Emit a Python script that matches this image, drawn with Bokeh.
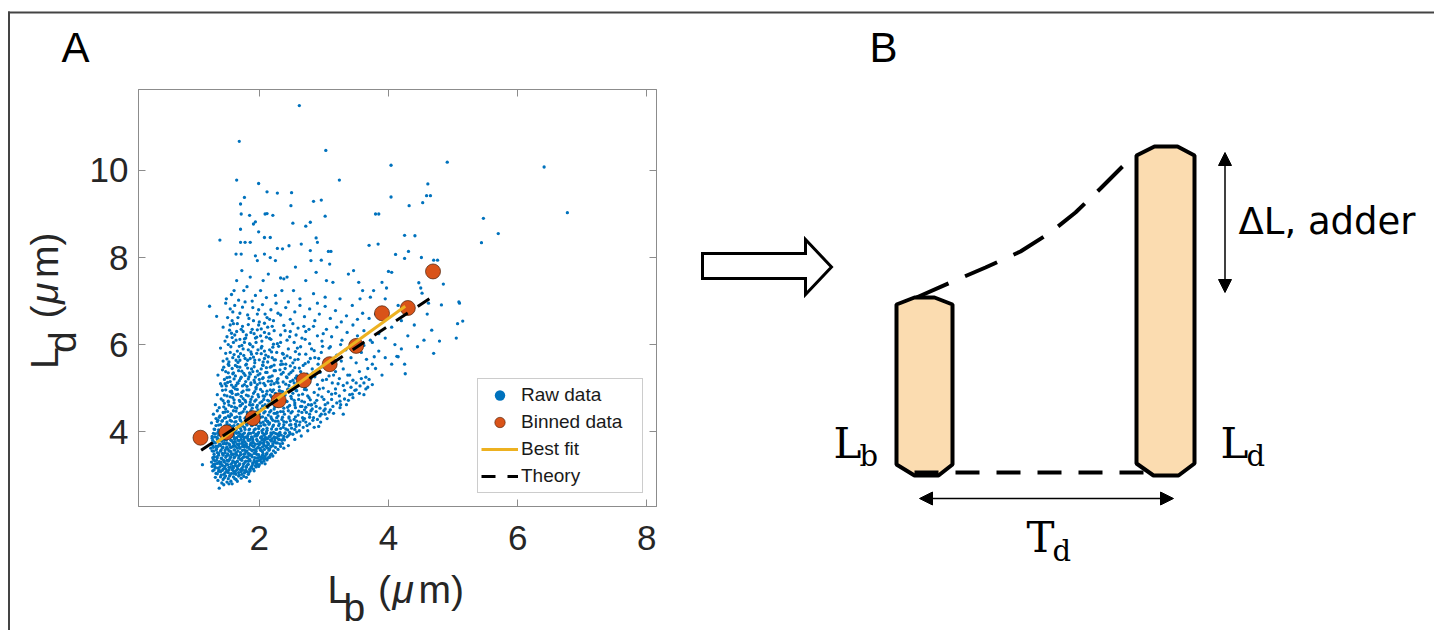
import math
from bokeh.plotting import figure
from bokeh.models import (Range1d, LinearAxis, FixedTicker, Legend, LegendItem,
                          Arrow, NormalHead)
from bokeh.core.properties import value
from bokeh.embed import file_html
from bokeh.resources import INLINE

# ---------------- Panel A data ----------------
x_ticks = [2, 4, 6, 8]
y_ticks = [4, 6, 8, 10]
x_lim = (0.13, 8.15)
y_lim = (2.28, 11.86)

raw_points = [
    # sparse outliers
    (2.62,11.49),(1.69,10.67),(3.03,10.46),(4.04,10.12),(4.91,10.19),(6.41,10.08),(1.65,9.78),(1.99,9.70),
    (3.24,9.78),(2.12,9.51),(2.28,9.48),(2.50,9.49),(1.77,9.38),(4.04,9.39),(4.61,9.69),(4.59,9.42),
    (4.65,9.42),(4.53,9.26),(4.32,9.19),(1.71,9.23),(1.72,9.00),(1.85,8.97),(2.09,9.00),(2.12,9.01),
    (2.21,8.97),(2.49,9.19),(2.84,9.29),(2.96,9.32),(3.02,8.95),(2.52,8.79),(2.72,8.72),(2.79,8.81),
    (3.80,9.00),(3.85,9.00),(1.39,8.40),(1.71,8.65),(1.94,8.82),(1.91,8.77),(1.99,8.59),(2.08,8.46),
    (2.17,8.46),(2.88,8.45),(2.90,8.35),(3.07,8.14),(3.11,8.14),(3.70,8.28),(3.84,8.31),(4.25,8.51),
    (4.41,8.50),(4.11,8.07),(4.25,7.98),(4.31,8.14),(4.51,8.00),(4.70,7.94),(4.76,7.94),(4.85,7.39),
    (5.10,6.95),(5.07,6.48),(5.15,6.54),(5.05,6.15),(4.79,6.08),(4.67,6.33),(4.82,6.91),(4.50,7.30),
    (4.47,7.42),(4.52,7.18),(4.00,7.68),(4.05,7.66),(3.90,7.43),(3.97,7.30),(4.26,5.33),(4.13,5.73),
    (4.15,5.72),(1.23,6.88),(1.34,6.65),(1.12,3.24),(1.38,2.70),(1.45,2.78),(1.53,2.80),(1.85,2.86),
    (5.47,8.90),(5.44,8.34),(5.70,8.55),(6.77,9.03),(5.09,6.98),
    # upper sparse band 7 - 8.4
    (1.71,8.35),(1.78,8.35),(1.86,8.35),(1.64,8.08),(1.72,8.08),(1.94,8.04),(1.97,7.93),(2.08,8.08),
    (2.17,8.00),(2.25,7.93),(2.28,8.21),(2.36,8.20),(2.46,8.27),(2.56,7.78),(2.65,8.31),(2.79,8.16),
    (2.80,7.93),(2.96,7.94),(3.09,7.85),(2.88,7.66),(2.72,7.47),(2.43,7.55),(2.38,7.51),(2.33,7.53),
    (2.14,7.62),(2.06,7.47),(1.86,7.55),(1.73,7.70),(1.65,7.47),(1.61,7.24),(1.76,7.24),(1.94,7.13),
    (2.02,7.24),(2.25,7.13),(2.35,7.24),(2.53,7.24),(2.63,7.05),(2.84,7.17),(3.02,7.09),(3.25,7.05),
    (3.38,7.62),(3.46,7.70),(3.54,7.43),(3.60,7.24),(3.72,7.09),(3.77,7.24),(3.56,7.05),(3.14,7.43),
    (3.04,7.47),
    # band 6.5 - 7
    (1.48,6.95),(1.55,6.82),(1.62,6.90),(1.70,6.72),(1.78,6.98),(1.84,6.60),(1.90,6.85),(1.97,6.70),
    (2.05,6.92),(2.12,6.62),(2.18,6.80),(2.26,6.95),(2.33,6.68),(2.41,6.85),(2.48,6.58),(2.55,6.75),
    (2.63,6.90),(2.70,6.64),(2.78,6.82),(2.86,6.55),(2.93,6.70),(3.02,6.88),(3.10,6.60),(3.18,6.78),
    (3.27,6.52),(3.35,6.66),(3.44,6.90),(3.52,6.58),(3.60,6.72),(1.58,6.55),(1.67,6.62),(2.00,6.52),
    (2.22,6.55),(2.90,6.95),(3.70,6.60),(3.80,6.70),
    # band 6 - 6.5
    (1.44,6.40),(1.50,6.18),(1.55,6.45),(1.60,6.05),(1.65,6.30),(1.70,6.12),(1.74,6.42),(1.80,6.22),
    (1.85,6.02),(1.89,6.35),(1.94,6.15),(1.99,6.45),(2.04,6.08),(2.08,6.28),(2.13,6.40),(2.18,6.12),
    (2.23,6.32),(2.28,6.02),(2.33,6.22),(2.38,6.44),(2.43,6.10),(2.48,6.30),(2.54,6.05),(2.60,6.38),
    (2.66,6.15),(2.72,6.30),(2.78,6.02),(2.84,6.42),(2.90,6.20),(2.97,6.08),(3.04,6.35),(3.12,6.18),
    (3.20,6.40),(3.28,6.10),(3.36,6.28),(3.45,6.45),(3.52,6.20),(3.62,6.32),(3.72,6.10),(3.85,6.25),
    (1.62,6.22),(1.77,6.05),(1.92,6.25),(2.02,6.20),(2.15,6.25),(2.40,6.32),(2.57,6.22),(2.69,6.42),
    # band 5.5 - 6
    (1.40,5.92),(1.44,5.62),(1.48,5.80),(1.52,5.55),(1.56,5.95),(1.59,5.70),(1.63,5.52),(1.66,5.85),
    (1.70,5.64),(1.73,5.98),(1.76,5.75),(1.80,5.55),(1.83,5.88),(1.86,5.68),(1.90,5.95),(1.93,5.58),
    (1.96,5.80),(2.00,5.65),(2.03,5.92),(2.06,5.52),(2.10,5.76),(2.13,5.60),(2.16,5.88),(2.20,5.70),
    (2.23,5.53),(2.27,5.82),(2.30,5.96),(2.34,5.62),(2.37,5.78),(2.41,5.55),(2.45,5.90),(2.48,5.70),
    (2.52,5.58),(2.56,5.84),(2.60,5.66),(2.64,5.95),(2.68,5.52),(2.72,5.78),(2.76,5.60),(2.81,5.90),
    (2.86,5.70),(2.91,5.55),(2.96,5.82),(3.02,5.64),(3.08,5.92),(3.14,5.58),(3.20,5.76),(3.27,5.62),
    (3.34,5.88),(3.42,5.70),(3.50,5.58),(3.58,5.82),(3.66,5.66),(3.75,5.55),(3.62,5.98),(1.68,5.72),
    (1.88,5.78),(2.08,5.85),(2.25,5.65),(2.43,5.74),(2.62,5.78),(2.79,5.68),(2.98,5.96),
    # band 5 - 5.5
    (1.36,5.30),(1.40,5.10),(1.43,5.42),(1.46,5.20),(1.49,5.05),(1.52,5.35),(1.55,5.15),(1.58,5.45),
    (1.60,5.02),(1.63,5.28),(1.66,5.12),(1.68,5.40),(1.71,5.22),(1.74,5.05),(1.76,5.34),(1.79,5.15),
    (1.82,5.46),(1.84,5.26),(1.87,5.08),(1.90,5.38),(1.92,5.18),(1.95,5.02),(1.98,5.30),(2.01,5.12),
    (2.03,5.44),(2.06,5.24),(2.09,5.06),(2.12,5.36),(2.14,5.16),(2.17,5.48),(2.20,5.28),(2.23,5.10),
    (2.25,5.40),(2.28,5.20),(2.31,5.03),(2.34,5.32),(2.37,5.14),(2.40,5.45),(2.43,5.24),(2.46,5.06),
    (2.49,5.36),(2.52,5.18),(2.55,5.47),(2.58,5.28),(2.61,5.08),(2.64,5.38),(2.67,5.20),(2.71,5.02),
    (2.74,5.32),(2.78,5.14),(2.82,5.44),(2.86,5.26),(2.90,5.08),(2.94,5.36),(2.98,5.18),(3.03,5.46),
    (3.08,5.28),(3.13,5.12),(3.18,5.38),(3.24,5.22),(3.30,5.44),(3.37,5.30),(3.45,5.18),(3.55,5.38),
    (3.65,5.25),(1.54,5.25),(1.70,5.48),(1.86,5.32),(2.00,5.20),(2.15,5.25),(2.32,5.42),(2.48,5.15),
    (2.62,5.46),(2.80,5.22),(2.96,5.48),
    # band 4.5 - 5
    (1.32,4.62),(1.35,4.85),(1.38,4.55),(1.41,4.75),(1.43,4.95),(1.46,4.65),(1.48,4.52),(1.50,4.82),
    (1.52,4.70),(1.55,4.92),(1.57,4.58),(1.59,4.78),(1.61,4.66),(1.63,4.98),(1.65,4.54),(1.67,4.86),
    (1.69,4.72),(1.71,4.60),(1.73,4.90),(1.75,4.76),(1.77,4.52),(1.79,4.68),(1.81,4.96),(1.83,4.82),
    (1.85,4.62),(1.87,4.74),(1.89,4.54),(1.91,4.88),(1.93,4.70),(1.95,4.98),(1.97,4.60),(1.99,4.80),
    (2.01,4.66),(2.03,4.52),(2.05,4.92),(2.07,4.74),(2.09,4.62),(2.11,4.86),(2.13,4.56),(2.15,4.70),
    (2.17,4.96),(2.19,4.80),(2.21,4.64),(2.23,4.52),(2.25,4.88),(2.27,4.72),(2.29,4.58),(2.31,4.94),
    (2.33,4.78),(2.35,4.66),(2.38,4.54),(2.40,4.84),(2.42,4.70),(2.45,4.98),(2.47,4.60),(2.50,4.76),
    (2.52,4.88),(2.55,4.66),(2.58,4.94),(2.61,4.74),(2.64,4.58),(2.67,4.86),(2.70,4.68),(2.73,4.96),
    (2.77,4.78),(2.81,4.62),(2.85,4.90),(2.89,4.72),(2.93,4.98),(2.97,4.80),(3.02,4.62),(3.07,4.92),
    (3.12,4.74),(3.18,4.88),(3.25,4.70),(3.32,4.95),(3.40,4.85),(1.58,4.88),(1.74,4.64),(1.90,4.62),
    (2.06,4.82),(2.20,4.92),(2.36,4.92),(2.56,4.55),(2.72,4.56),(2.88,4.58),
    # band 4 - 4.5
    (1.26,4.20),(1.29,4.40),(1.31,4.05),(1.33,4.30),(1.35,4.48),(1.37,4.15),(1.39,4.36),(1.41,4.02),
    (1.42,4.24),(1.44,4.44),(1.46,4.10),(1.48,4.32),(1.50,4.18),(1.51,4.46),(1.53,4.04),(1.55,4.26),
    (1.57,4.38),(1.58,4.12),(1.60,4.48),(1.62,4.22),(1.64,4.06),(1.65,4.34),(1.67,4.16),(1.69,4.42),
    (1.70,4.28),(1.72,4.02),(1.74,4.20),(1.75,4.46),(1.77,4.10),(1.79,4.32),(1.80,4.18),(1.82,4.40),
    (1.84,4.04),(1.85,4.26),(1.87,4.48),(1.89,4.14),(1.90,4.36),(1.92,4.22),(1.94,4.06),(1.95,4.44),
    (1.97,4.30),(1.99,4.12),(2.00,4.40),(2.02,4.20),(2.04,4.02),(2.05,4.34),(2.07,4.16),(2.09,4.46),
    (2.10,4.26),(2.12,4.08),(2.14,4.38),(2.16,4.20),(2.18,4.48),(2.19,4.30),(2.21,4.12),(2.23,4.42),
    (2.25,4.24),(2.27,4.06),(2.29,4.36),(2.31,4.18),(2.33,4.46),(2.35,4.28),(2.37,4.10),(2.39,4.40),
    (2.42,4.22),(2.44,4.04),(2.46,4.34),(2.49,4.16),(2.51,4.46),(2.54,4.28),(2.57,4.12),(2.60,4.38),
    (2.63,4.22),(2.66,4.44),(2.70,4.30),(2.74,4.14),(2.78,4.40),(2.83,4.26),(2.88,4.46),(2.94,4.36),
    (3.00,4.48),(1.36,4.26),(1.52,4.36),(1.68,4.10),(1.83,4.30),(1.98,4.50),(2.13,4.22),(2.28,4.44),
    (2.45,4.48),(2.62,4.02),(2.80,4.48),
    # core 3.5 - 4
    (1.25,3.62),(1.27,3.85),(1.29,3.55),(1.30,3.75),(1.32,3.95),(1.33,3.66),(1.35,3.52),(1.36,3.84),
    (1.38,3.70),(1.39,3.98),(1.41,3.58),(1.42,3.78),(1.44,3.64),(1.45,3.90),(1.47,3.52),(1.48,3.72),
    (1.50,3.84),(1.51,3.60),(1.53,3.96),(1.54,3.70),(1.56,3.54),(1.57,3.80),(1.59,3.66),(1.60,3.92),
    (1.62,3.58),(1.63,3.76),(1.65,3.86),(1.66,3.62),(1.68,3.98),(1.69,3.72),(1.71,3.52),(1.72,3.82),
    (1.74,3.66),(1.75,3.94),(1.77,3.58),(1.78,3.76),(1.80,3.88),(1.81,3.64),(1.83,3.50),(1.84,3.80),
    (1.86,3.70),(1.87,3.96),(1.89,3.56),(1.90,3.78),(1.92,3.66),(1.93,3.90),(1.95,3.60),(1.96,3.82),
    (1.98,3.72),(1.99,3.98),(2.01,3.62),(2.02,3.86),(2.04,3.74),(2.05,3.54),(2.07,3.92),(2.08,3.80),
    (2.10,3.66),(2.11,3.96),(2.13,3.84),(2.14,3.70),(2.16,3.60),(2.17,3.90),(2.19,3.78),(2.21,3.68),
    (2.22,3.98),(2.24,3.86),(2.26,3.74),(2.28,3.94),(2.30,3.82),(2.32,3.72),(2.34,3.92),(2.37,3.84),
    (2.40,3.96),(2.43,3.88),(2.47,3.98),(2.52,3.94),(2.58,3.99),
    (1.28,3.68),(1.31,3.88),(1.34,3.60),(1.37,3.92),(1.40,3.68),(1.43,3.50),(1.46,3.80),(1.49,3.62),
    (1.52,3.88),(1.55,3.64),(1.58,3.94),(1.61,3.70),(1.64,3.52),(1.67,3.80),(1.70,3.62),(1.73,3.92),
    (1.76,3.70),(1.79,3.54),(1.82,3.84),(1.85,3.60),(1.88,3.88),(1.91,3.74),(1.94,3.52),(1.97,3.92),
    (2.00,3.70),(2.03,3.58),(2.06,3.82),(2.09,3.94),(2.12,3.76),(2.15,3.88),(2.18,3.66),(2.20,3.84),
    (2.23,3.76),(2.27,3.86),(2.31,3.96),(2.35,3.80),(1.44,3.72),(1.50,3.74),(1.56,3.88),(1.62,3.84),
    (1.68,3.68),(1.74,3.76),(1.80,3.68),(1.86,3.82),(1.92,3.58),(1.98,3.64),(2.04,3.88),(2.10,3.86),
    (1.47,3.96),(1.53,3.56),(1.59,3.76),(1.65,3.96),(1.71,3.88),(1.77,3.86),(1.83,3.94),(1.89,3.68),
    (1.95,3.94),(2.01,3.76),(2.07,3.70),(2.13,3.62),(2.19,3.94),
    # core 3 - 3.5
    (1.26,3.30),(1.28,3.10),(1.30,3.42),(1.31,3.20),(1.33,3.04),(1.34,3.34),(1.36,3.16),(1.37,3.46),
    (1.39,3.26),(1.40,3.08),(1.42,3.38),(1.43,3.22),(1.45,3.02),(1.46,3.30),(1.48,3.14),(1.49,3.44),
    (1.51,3.24),(1.52,3.06),(1.54,3.36),(1.55,3.18),(1.57,3.48),(1.58,3.28),(1.60,3.10),(1.61,3.40),
    (1.63,3.22),(1.64,3.02),(1.66,3.32),(1.67,3.14),(1.69,3.44),(1.70,3.26),(1.72,3.08),(1.73,3.38),
    (1.75,3.20),(1.76,3.48),(1.78,3.30),(1.79,3.12),(1.81,3.42),(1.82,3.24),(1.84,3.06),(1.85,3.36),
    (1.87,3.18),(1.88,3.46),(1.90,3.28),(1.91,3.14),(1.93,3.40),(1.94,3.22),(1.96,3.48),(1.97,3.32),
    (1.99,3.20),(2.01,3.42),(2.03,3.30),(2.05,3.46),(2.07,3.36),(2.09,3.26),(2.11,3.48),(2.14,3.40),
    (2.17,3.46),(2.21,3.44),
    (1.27,3.20),(1.29,3.36),(1.32,3.26),(1.35,3.40),(1.38,3.12),(1.41,3.30),(1.44,3.46),(1.47,3.20),
    (1.50,3.34),(1.53,3.12),(1.56,3.42),(1.59,3.20),(1.62,3.30),(1.65,3.46),(1.68,3.22),(1.71,3.36),
    (1.74,3.12),(1.77,3.42),(1.80,3.20),(1.83,3.32),(1.86,3.46),(1.89,3.22),(1.92,3.34),(1.95,3.28),
    (1.98,3.40),(2.02,3.36),(2.06,3.40),(2.10,3.38),(1.44,3.14),(1.52,3.46),(1.60,3.48),(1.68,3.06),
    (1.76,3.26),(1.84,3.46),(1.49,3.08),(1.57,3.04),(1.65,3.12),(1.73,3.02),(1.81,3.08),(1.86,3.10),
    # below 3
    (1.32,2.95),(1.36,2.88),(1.40,2.96),(1.44,2.90),(1.48,2.98),(1.52,2.92),(1.56,2.86),(1.60,2.96),
    (1.64,2.90),(1.68,2.98),(1.72,2.93),(1.76,2.97),(1.80,2.95),(1.42,2.82),(1.50,2.84),(1.58,2.80),
    (1.66,2.86),(1.46,2.94),(1.54,2.98),(1.62,2.92),
    # lower-right edge of the cloud
    (2.45,3.68),(2.55,3.82),(2.65,3.90),(2.75,4.02),(2.85,4.10),(2.95,4.22),(3.05,4.30),(3.15,4.42),
    (3.25,4.55),(3.35,4.62),(3.45,4.78),(3.55,4.88),(3.65,4.98),(3.75,5.08),(3.62,4.85),(3.48,4.95),
    (3.30,4.40),(3.10,4.50),(2.92,4.12),(2.38,3.62),(3.02,4.40),
    # right tail
    (3.70,5.20),(3.80,5.45),(3.90,5.30),(3.95,5.70),(4.05,5.55),(3.85,5.85),(4.10,6.00),(4.20,5.90),
    (3.75,6.05),(3.95,6.15),(4.30,6.20),(4.40,6.45),(4.55,6.10),(4.20,6.55),(4.05,6.40),(3.90,6.60),
    (4.35,6.80),(4.60,6.70),(4.15,6.90),(3.95,7.05),(4.45,5.95),(4.70,5.80),(4.62,6.95),(3.68,5.45),
    (3.78,5.72),(4.25,5.55),
    # dense core, second pass
    (1.35,3.03),(1.41,3.00),(1.47,3.05),(1.55,3.01),(1.61,3.04),(1.69,3.00),(1.77,3.05),(1.83,3.02),
    (1.30,3.12),(1.37,3.09),(1.43,3.11),(1.51,3.10),(1.58,3.13),(1.63,3.08),(1.71,3.12),(1.78,3.09),
    (1.85,3.13),(1.92,3.10),(1.32,3.17),(1.39,3.19),(1.46,3.16),(1.53,3.18),(1.60,3.17),(1.66,3.19),
    (1.73,3.16),(1.80,3.18),(1.88,3.16),(1.95,3.19),(2.00,3.24),(1.29,3.25),(1.35,3.27),(1.42,3.24),
    (1.49,3.26),(1.56,3.25),(1.63,3.27),(1.69,3.24),(1.76,3.26),(1.83,3.25),(1.90,3.27),(1.97,3.25),
    (2.04,3.28),(1.31,3.33),(1.38,3.31),(1.45,3.34),(1.52,3.32),(1.59,3.33),(1.66,3.31),(1.73,3.34),
    (1.79,3.32),(1.86,3.33),(1.93,3.31),(2.00,3.34),(2.07,3.32),(2.12,3.35),(1.28,3.40),(1.34,3.42),
    (1.41,3.39),(1.48,3.41),(1.55,3.40),(1.62,3.42),(1.68,3.39),(1.75,3.41),(1.82,3.40),(1.89,3.42),
    (1.96,3.39),(2.03,3.41),(2.09,3.43),(2.16,3.41),(1.30,3.48),(1.37,3.50),(1.44,3.47),(1.51,3.49),
    (1.58,3.48),(1.64,3.50),(1.71,3.47),(1.78,3.49),(1.85,3.48),(1.92,3.50),(1.99,3.47),(2.06,3.49),
    (2.12,3.51),(2.19,3.49),(2.25,3.52),(1.27,3.56),(1.33,3.58),(1.40,3.55),(1.47,3.57),(1.54,3.56),
    (1.61,3.58),(1.67,3.55),(1.74,3.57),(1.81,3.56),(1.88,3.58),(1.95,3.55),(2.02,3.57),(2.08,3.59),
    (2.15,3.57),(2.22,3.56),(2.29,3.59),(1.29,3.64),(1.36,3.66),(1.43,3.63),(1.50,3.65),(1.57,3.64),
    (1.63,3.66),(1.70,3.63),(1.77,3.65),(1.84,3.64),(1.91,3.66),(1.98,3.63),(2.05,3.65),(2.11,3.67),
    (2.18,3.65),(2.25,3.64),(2.33,3.66),(1.26,3.72),(1.32,3.74),(1.39,3.71),(1.46,3.73),(1.53,3.72),
    (1.60,3.74),(1.66,3.71),(1.73,3.73),(1.80,3.72),(1.87,3.74),(1.94,3.71),(2.01,3.73),(2.07,3.75),
    (2.14,3.73),(2.21,3.72),(2.28,3.74),(2.36,3.73),(1.28,3.80),(1.35,3.82),(1.42,3.79),(1.49,3.81),
    (1.56,3.80),(1.62,3.82),(1.69,3.79),(1.76,3.81),(1.83,3.80),(1.90,3.82),(1.97,3.79),(2.04,3.81),
    (2.10,3.83),(2.17,3.81),(2.24,3.80),(2.31,3.82),(2.39,3.81),(1.27,3.89),(1.34,3.87),(1.41,3.90),
    (1.48,3.88),(1.55,3.89),(1.61,3.87),(1.68,3.90),(1.75,3.88),(1.82,3.89),(1.89,3.87),(1.96,3.90),
    (2.03,3.88),(2.09,3.86),(2.16,3.89),(2.23,3.88),(2.30,3.90),(2.38,3.89),(2.45,3.91),(1.29,3.96),
    (1.36,3.98),(1.43,3.95),(1.50,3.97),(1.57,3.96),(1.63,3.98),(1.70,3.95),(1.77,3.97),(1.84,3.96),
    (1.91,3.98),(1.98,3.95),(2.05,3.97),(2.11,3.99),(2.18,3.97),(2.25,3.96),(2.32,3.98),(2.40,3.97),
    (2.48,3.95),(1.30,4.06),(1.37,4.04),(1.44,4.07),(1.51,4.05),(1.58,4.06),(1.64,4.04),(1.71,4.07),
    (1.78,4.05),(1.85,4.06),(1.92,4.04),(1.99,4.07),(2.06,4.05),(2.12,4.03),(2.19,4.06),(2.26,4.05),
    (2.33,4.07),(2.41,4.06),(2.50,4.08),(1.33,4.14),(1.40,4.16),(1.47,4.13),(1.54,4.15),(1.61,4.14),
    (1.67,4.16),(1.74,4.13),(1.81,4.15),(1.88,4.14),(1.95,4.16),(2.02,4.13),(2.09,4.15),(2.15,4.17),
    (2.22,4.15),(2.30,4.14),(2.38,4.16),(2.47,4.15),(2.56,4.17),(1.35,4.23),(1.43,4.25),(1.50,4.22),
    (1.57,4.24),(1.64,4.23),(1.71,4.25),(1.78,4.22),(1.85,4.24),(1.92,4.23),(1.99,4.25),(2.06,4.22),
    (2.13,4.24),(2.21,4.26),(2.29,4.24),(2.38,4.23),(2.48,4.25),(2.58,4.24),(2.68,4.26),(1.38,4.33),
    (1.46,4.31),(1.54,4.34),(1.62,4.32),(1.70,4.33),(1.78,4.31),(1.86,4.34),(1.94,4.32),(2.02,4.33),
    (2.10,4.31),(2.18,4.34),(2.27,4.32),(2.36,4.33),(2.46,4.31),(2.56,4.34),(2.67,4.32),(2.78,4.33),
    # medium-density wedge, second pass
    (1.47,4.45),(1.56,4.41),(1.64,4.47),(1.72,4.43),(1.81,4.45),(1.89,4.41),(1.98,4.46),(2.07,4.43),
    (2.16,4.45),(2.26,4.42),(2.37,4.46),(2.49,4.43),(2.61,4.47),(2.73,4.44),(1.45,4.57),(1.53,4.61),
    (1.62,4.56),(1.70,4.59),(1.79,4.57),(1.87,4.61),(1.96,4.56),(2.05,4.59),(2.14,4.62),(2.24,4.57),
    (2.34,4.60),(2.44,4.56),(2.55,4.61),(2.66,4.58),(2.80,4.61),(1.44,4.71),(1.52,4.68),(1.61,4.73),
    (1.70,4.69),(1.78,4.72),(1.86,4.68),(1.95,4.73),(2.04,4.69),(2.13,4.72),(2.23,4.68),(2.32,4.73),
    (2.43,4.69),(2.54,4.72),(2.66,4.70),(2.79,4.73),(1.46,4.84),(1.55,4.80),(1.64,4.85),(1.72,4.81),
    (1.80,4.84),(1.89,4.80),(1.98,4.85),(2.08,4.81),(2.17,4.84),(2.27,4.80),(2.38,4.85),(2.49,4.81),
    (2.61,4.84),(2.75,4.82),(1.48,4.96),(1.57,4.93),(1.66,4.97),(1.75,4.93),(1.84,4.96),(1.93,4.92),
    (2.02,4.97),(2.12,4.93),(2.22,4.96),(2.33,4.93),(2.44,4.97),(2.57,4.94),(2.70,4.97),(1.47,5.10),
    (1.57,5.07),(1.67,5.11),(1.77,5.08),(1.87,5.12),(1.97,5.08),(2.07,5.11),(2.18,5.08),(2.29,5.12),
    (2.41,5.09),(2.54,5.12),(2.68,5.09),(1.50,5.24),(1.61,5.21),(1.72,5.25),(1.83,5.21),(1.94,5.25),
    (2.05,5.22),(2.17,5.26),(2.29,5.22),(2.42,5.26),(2.56,5.23),(1.48,5.38),(1.60,5.35),(1.73,5.39),
    (1.85,5.35),(1.97,5.39),(2.10,5.36),(2.23,5.40),(2.37,5.36),(2.52,5.40),(1.53,5.52),(1.66,5.49),
    (1.79,5.53),(1.92,5.49),(2.05,5.53),(2.19,5.50),(2.33,5.54),(2.48,5.51),(1.50,5.67),(1.64,5.64),
    (1.78,5.68),(1.93,5.64),(2.08,5.68),(2.23,5.65),(2.39,5.69),(1.55,5.82),(1.71,5.79),(1.87,5.83),
    (2.03,5.79),(2.19,5.83),(2.36,5.80),(1.52,6.00),(1.69,5.96),(1.86,6.00),(2.04,5.96),(2.22,6.01),
    (1.58,6.16),(1.77,6.13),(1.96,6.17),(2.16,6.14),(1.54,6.33),(1.75,6.30),(1.97,6.34),(1.60,6.48),
    (1.83,6.46),(2.08,6.49),
    # diagonal band, second pass
    (2.55,4.05),(2.62,4.15),(2.68,4.10),(2.72,4.22),(2.78,4.18),(2.84,4.32),(2.90,4.28),(2.96,4.40),
    (3.02,4.52),(3.08,4.45),(3.14,4.58),(3.20,4.66),(3.26,4.62),(3.32,4.75),(3.38,4.72),(3.44,4.86),
    (3.50,4.96),(3.56,5.05),(3.62,5.12),(3.68,5.02),(2.86,4.66),(2.94,4.54),(3.00,4.74),(3.06,4.66),
    (3.12,4.86),(3.18,4.98),(3.24,4.82),(3.30,5.06),(3.36,5.12),(3.42,5.02),(2.70,4.50),(2.76,4.62),
    (2.82,4.52),(2.91,4.84),(2.99,5.00),(3.15,5.30),(3.22,5.10),(3.40,5.30),(3.50,5.12),(3.58,5.22),
    # upper wedge, third pass
    (1.42,5.05),(1.51,5.13),(1.59,5.33),(1.64,5.06),(1.69,5.17),(1.78,5.29),(1.81,5.04),(1.88,5.44),
    (1.93,5.13),(2.01,5.33),(2.11,5.47),(2.19,5.16),(1.45,5.48),(1.53,5.60),(1.61,5.77),(1.67,5.59),
    (1.75,5.90),(1.82,5.64),(1.91,5.71),(1.98,5.88),(2.06,5.60),(2.14,5.72),(2.21,5.94),(1.47,6.08),
    (1.57,6.26),(1.64,6.10),(1.72,6.35),(1.79,6.15),(1.87,6.28),(1.95,6.05),(2.03,6.36),(2.11,6.17),
    (2.20,6.42),(1.51,6.62),(1.59,6.75),(1.66,6.48),(1.74,6.86),(1.82,6.68),(1.91,6.55),(1.99,6.80),
    (2.09,6.70),(2.16,6.58),(1.49,7.05),(1.57,7.15),(1.68,7.02),(1.81,7.33),(1.89,7.00),(2.11,7.08),
    (2.29,6.72),(2.45,6.98),(2.27,5.14),(2.36,5.55),(2.46,5.32),(2.55,5.65),(2.64,5.16),(2.71,5.56),
    (2.83,5.35),(2.92,5.68),(3.04,5.20),(3.16,5.52),(2.33,6.05),(2.47,6.18),(2.59,5.92),(2.71,6.12),
    (2.85,5.86),(2.99,6.25),(3.10,5.95),(3.26,6.00),(2.52,6.48),(2.77,6.35),
]
raw_lb = [p[0] for p in raw_points]
raw_ld = [p[1] for p in raw_points]

bin_lb = [1.09, 1.49, 1.90, 2.30, 2.69, 3.09, 3.50, 3.90, 4.30, 4.69]
bin_ld = [3.86, 3.98, 4.31, 4.72, 5.18, 5.55, 5.97, 6.72, 6.84, 7.68]

fit_lb = [1.34, 4.26]
fit_ld = [3.75, 6.88]
theory_lb = [1.10, 4.65]
theory_ld = [3.57, 7.07]

legend_labels = ["Raw data", "Binned data", "Best fit", "Theory"]

# ---------------- Panel B diagram shapes (page px units) ----------------
hollow_arrow_x = [702, 805, 805, 831, 805, 805, 702]
hollow_arrow_y = [253, 253, 239, 266.5, 294, 278, 278]
cell_birth_x = [896, 914, 934, 952, 952, 938, 914, 896]
cell_birth_y = [304, 297, 297, 304, 464, 475, 475, 464]
cell_div_x = [1136, 1154, 1177, 1194, 1194, 1178, 1153, 1136]
cell_div_y = [155, 146, 146, 155, 463, 475, 475, 463]
growth_x = [916, 950, 985, 1020, 1050, 1075, 1100, 1131]
growth_y = [297, 282, 267, 251, 232, 212, 188, 157]
base_x = [914, 1158]
base_y = [472, 472]

# ---------------- styles ----------------
BLUE = "#0072BD"
ORANGE = "#D95319"
GOLD = "#EDB120"
AXC = "#8c8c8c"
TXT = "#262626"
CELL = "#FBDCB0"
SANS = "Liberation Sans"
W, H = 1434, 630
NAN = float("nan")

# ---------------- Panel A figure ----------------
pa = figure(width=700, height=620, x_range=Range1d(*x_lim), y_range=Range1d(*y_lim),
            toolbar_location=None, output_backend="svg",
            min_border_left=138, min_border_right=44, min_border_top=89, min_border_bottom=114,
            outline_line_color=AXC, outline_line_width=1, background_fill_color="white",
            border_fill_color="white")
pa.grid.visible = False

r_raw = pa.scatter(raw_lb, raw_ld, size=3.3, fill_color=BLUE, line_color=None)
r_bin = pa.scatter(bin_lb, bin_ld, size=15, fill_color=ORANGE, line_color="#4a1f08", line_width=0.7)
r_fit = pa.line(fit_lb, fit_ld, line_width=3, line_color=GOLD)
r_th = pa.line(theory_lb, theory_ld, line_width=3, line_color="black", line_dash="14 12")
l_raw = pa.scatter(x=[NAN], y=[NAN], size=5.5, fill_color=BLUE, line_color=None)
l_bin = pa.scatter(x=[NAN], y=[NAN], size=7.5, fill_color=ORANGE, line_color="#4a1f08", line_width=0.6)

for ax in (pa.xaxis[0], pa.yaxis[0]):
    ax.axis_line_color = AXC
    ax.major_tick_line_color = AXC
    ax.major_tick_in = 7
    ax.major_tick_out = 0
    ax.minor_tick_line_color = None
    ax.major_label_text_font = SANS
    ax.major_label_text_font_size = "35px"
    ax.major_label_text_color = TXT
pa.xaxis.ticker = FixedTicker(ticks=x_ticks)
pa.yaxis.ticker = FixedTicker(ticks=y_ticks)
pa.xaxis.major_label_standoff = 19
pa.yaxis.major_label_standoff = 10

top_ax = LinearAxis(ticker=FixedTicker(ticks=x_ticks), major_label_text_font_size="0px",
                    major_label_overrides={t: "" for t in x_ticks},
                    axis_line_color=AXC, major_tick_line_color=AXC, major_tick_in=7,
                    major_tick_out=0, minor_tick_line_color=None, major_label_standoff=0)
right_ax = LinearAxis(ticker=FixedTicker(ticks=y_ticks), major_label_text_font_size="0px",
                      major_label_overrides={t: "" for t in y_ticks},
                      axis_line_color=AXC, major_tick_line_color=AXC, major_tick_in=7,
                      major_tick_out=0, minor_tick_line_color=None, major_label_standoff=0)
pa.add_layout(top_ax, "above")
pa.add_layout(right_ax, "right")

legend = Legend(items=[LegendItem(label=legend_labels[0], renderers=[l_raw]),
                       LegendItem(label=legend_labels[1], renderers=[l_bin]),
                       LegendItem(label=legend_labels[2], renderers=[r_fit]),
                       LegendItem(label=legend_labels[3], renderers=[r_th])],
                location="bottom_right", margin=13, padding=3, spacing=1,
                glyph_width=37, glyph_height=26, label_height=26, label_width=118,
                label_standoff=3, label_text_font=SANS, label_text_font_size="19px",
                label_text_color="#1a1a1a", border_line_color="#9a9a9a", border_line_width=1,
                background_fill_color="white", background_fill_alpha=1)
pa.add_layout(legend)

# ---------------- overlay figure (labels + panel B), page-pixel coordinates ----------------
ov = figure(width=W, height=H, x_range=Range1d(0, W), y_range=Range1d(H, 0),
            x_axis_type=None, y_axis_type=None, toolbar_location=None, output_backend="svg",
            min_border=0, outline_line_color=None, outline_line_alpha=0,
            background_fill_color=None, border_fill_color=None,
            background_fill_alpha=0, border_fill_alpha=0,
            styles={"position": "absolute", "left": "0px", "top": "0px", "overflow": "hidden"})

MID = 0.355  # text is anchored at the middle of its em box; shift so (x, y) is the baseline


def label(x, y, s, size, font=SANS, style="normal", angle=0.0, color=TXT):
    if angle == 0.0:
        y = y - MID * size
    else:
        x = x - MID * size
    ov.text(x=[x], y=[y], text=[s], angle=angle, text_font=value(font),
            text_font_size=value(f"{size}px"), text_font_style=value(style),
            text_color=color, text_align="left", text_baseline="alphabetic")


# outer frame edges (top and left) as thin filled bars
ov.quad(left=[7.5, 7.5], right=[W, 9.5], top=[11, 11], bottom=[13, H],
        fill_color="#444444", line_color=None)

# panel letters
label(61, 62, "A", 42, color="black")
label(869, 62, "B", 42, color="black")

# axis titles of panel A
label(327, 603, "L", 39)
label(343, 621, "b", 39)
label(377.6, 603, "(", 39)
label(392, 603, "\u03bc", 39, style="italic")
label(418, 603, "m)", 39)
ang = math.pi / 2
label(58, 368.5, "L", 39, angle=ang)
label(76, 352.5, "d", 39, angle=ang)
label(58, 318, "(", 39, angle=ang)
label(58, 303.5, "\u03bc", 39, style="italic", angle=ang)
label(58, 277.5, "m)", 39, angle=ang)

# panel B
ov.patch(hollow_arrow_x, hollow_arrow_y, fill_color="white", line_color="black", line_width=3,
         line_join="miter")
ov.line(growth_x, growth_y, line_color="black", line_width=4, line_dash="35 18")
ov.patch(cell_birth_x, cell_birth_y, fill_color=CELL, line_color="black", line_width=4)
ov.patch(cell_div_x, cell_div_y, fill_color=CELL, line_color="black", line_width=4)
ov.line(base_x, base_y, line_color="black", line_width=4, line_dash="24 17")

ov.add_layout(Arrow(start=NormalHead(size=13, fill_color="black", line_color="black"),
                    end=NormalHead(size=13, fill_color="black", line_color="black"),
                    x_start=1224.5, y_start=152, x_end=1224.5, y_end=292,
                    line_width=1.5, line_color="black"))
ov.add_layout(Arrow(start=NormalHead(size=13, fill_color="black", line_color="black"),
                    end=NormalHead(size=13, fill_color="black", line_color="black"),
                    x_start=919, y_start=498, x_end=1173, y_end=498,
                    line_width=1.5, line_color="black"))

label(1238, 234, "\u0394L, adder", 37, font="DejaVu Sans", color="black")
label(833, 458, "L", 42, font="DejaVu Serif", color="black")
label(859, 466, "b", 29, font="DejaVu Serif", color="black")
label(1220, 458, "L", 42, font="DejaVu Serif", color="black")
label(1246, 466, "d", 29, font="DejaVu Serif", color="black")
label(1026, 552, "T", 42, font="DejaVu Serif", color="black")
label(1052, 561, "d", 29, font="DejaVu Serif", color="black")

open("out.html", "w").write(file_html([pa, ov], INLINE))
